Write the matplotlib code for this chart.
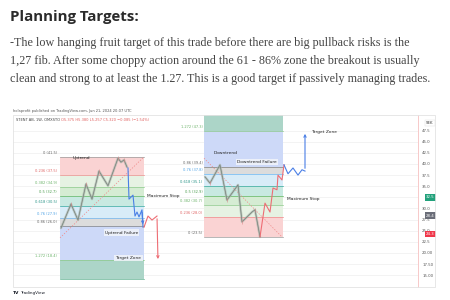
import numpy as np
import matplotlib.pyplot as plt
from matplotlib.patches import Rectangle

# ---- slide text
title = "Planning Targets:"
para = ["-The low hanging fruit target of this trade before there are big pullback risks is the",
        "1,27 fib. After some choppy action around the 61 - 86% zone the breakout is usually",
        "clean and strong to at least the 1.27. This is a good target if passively managing trades."]

# ---- fib levels (price per level)
fib_levels = ["0", "0.236", "0.382", "0.5", "0.618", "0.76", "0.86", "1.272", "1.618"]
up_prices = [41.5, 37.5, 34.9, 32.7, 30.5, 27.9, 26.0, 18.40, 14.1]
down_prices = [23.5, 28.0, 30.7, 32.9, 35.1, 37.8, 39.4, 47.3, 54.4]
up_span = (23.5, 65.5)      # bars
down_span = (95.5, 134.75)

# ---- price paths (bar, price)
up_bars = [24, 29, 32.5, 36.5, 39.5, 43, 47.5, 52.5, 54, 55.5, 57]
up_px = [25.6, 31.0, 27.4, 35.5, 32.1, 38.4, 35.1, 41.3, 40.4, 40.9, 39.3]
fail_up_bars = [57.5, 58, 60, 61, 62, 63, 64.5, 65]
fail_up_px = [39.1, 32.1, 33.0, 28.3, 29.2, 28.1, 29.7, 25.8]
drop_bars = [65.5, 67.5, 69.5, 72, 72.5]
drop_px = [25.8, 28.3, 27.4, 28.3, 18.0]

dn_bars = [96, 98.5, 103.5, 107, 112.5, 114.5, 119.5, 121, 123.5]
dn_px = [37.1, 35.7, 39.8, 31.9, 35.3, 27.0, 29.2, 29.7, 23.6]
rise_bars = [123.5, 126, 128.5, 130, 132, 132.5, 134.5, 135.5]
rise_px = [23.6, 31.2, 29.2, 34.6, 34.2, 37.5, 36.4, 39.8]
fail_dn_bars = [135.5, 137.5, 140, 142.5, 144.5, 146, 146]
fail_dn_px = [39.8, 37.8, 39.1, 37.5, 38.7, 38.4, 47.4]

ticks = [15, 17.5, 20, 22.5, 25, 27.5, 30, 35, 37.5, 40, 42.5, 45, 47.5]
tick_lbl = ["15.00", "17.50", "20.00", "22.5", "25.0", "27.5", "30.0", "35.0", "37.5", "40.0", "42.5", "45.0", "47.5"]

band_cols = ["#fad3d3", "#e6f2e3", "#d5ecd3", "#c8e9e1", "#d8ecf8", "#dcdcdc", "#cdd9f8", "#acd5c8"]
line_cols = ["#9a9a9a", "#ee8a8a", "#8cc98a", "#5fb561", "#33a89c", "#6cb6f2", "#808080", "#8cc98a", "#5fb08f"]
lbl_cols = ["#666666", "#e06666", "#6cb36a", "#4e9e50", "#2a9488", "#4fa3e6", "#666666", "#6cb36a"]

W, H = 450, 300
fig = plt.figure(figsize=(4.5, 3), dpi=100)
fig.patch.set_facecolor("white")

fig.text(10 / W, 1 - 17 / H, title, family="Open Sans", weight="bold", fontsize=10.8,
         color="#2b2b2b", va="center")
for i, line in enumerate(para):
    fig.text(10 / W, 1 - (43 + 18 * i) / H, line, family="Liberation Serif", fontsize=8.75,
             color="#444444", va="center")

fig.text(13 / W, 1 - 110.5 / H, "holaprofit published on TradingView.com, Jun 21, 2024 20:07 UTC",
         fontsize=2.6, color="#555555", va="center")

# panel frame
fig.patches.append(Rectangle((13 / W, 1 - 287 / H), 422 / W, 172 / H, transform=fig.transFigure,
                             fill=False, ec="#e3e3e3", lw=0.6))

ax = fig.add_axes([13 / W, 1 - 287 / H, 405 / W, 172 / H])
ax.set_xlim(0, 202.5)
ax.set_ylim(12.36, 51.0)
for s in ["top", "left", "bottom"]:
    ax.spines[s].set_visible(False)
ax.spines["right"].set_color("#f4b4b4")
ax.spines["right"].set_linewidth(0.5)
ax.set_xticks([])
ax.yaxis.tick_right()
ax.set_yticks(ticks)
ax.set_yticklabels(tick_lbl, fontsize=2.8, color="#555555")
ax.tick_params(axis="y", length=0, pad=3)
for t in ticks + [32.5]:
    ax.axhline(t, color="#eeeeee", lw=0.5, zorder=0)


def fib_block(prices, span, label_x):
    x0, x1 = span
    for k in range(len(prices) - 1):
        lo, hi = sorted([prices[k], prices[k + 1]])
        ax.add_patch(Rectangle((x0, lo), x1 - x0, hi - lo, color=band_cols[k], lw=0, zorder=1))
    for k, p in enumerate(prices):
        ax.plot([x0, x1], [p, p], color=line_cols[k], lw=0.5, zorder=2)
        if k < 8:
            ax.text(label_x, p + 0.9, "%s (%s)" % (fib_levels[k], p), fontsize=2.6,
                    color=lbl_cols[k], ha="right", va="center", zorder=3)


fib_block(up_prices, up_span, 22)
fib_block(down_prices, down_span, 94.8)

# trend lines
ax.plot([23.5, 65.5], [23.4, 41.6], ls=(0, (2, 2)), color="#f08a8a", lw=0.5, zorder=3)
ax.plot([95.5, 134.5], [41.3, 23.6], ls=(0, (2, 2)), color="#f08a8a", lw=0.5, zorder=3)

# candle-like paths
for bx, py in [(up_bars, up_px), (dn_bars, dn_px)]:
    ax.plot(bx, py, color="#a9b3ab", lw=1.7, alpha=0.7, zorder=4, solid_capstyle="round")
    ax.plot(bx, py, color="#6f7b72", lw=0.45, zorder=5)
    ax.plot(bx[1::2], py[1::2], ls="none", marker="|", ms=2.2, mew=0.4, color="#d98a8a", zorder=5)

ax.plot(fail_up_bars, fail_up_px, color="#4a7fe6", lw=0.8, zorder=6)
ax.annotate("", xy=(fail_up_bars[-1], fail_up_px[-1]), xytext=(fail_up_bars[-2], fail_up_px[-2]),
            arrowprops=dict(arrowstyle="->", color="#4a7fe6", lw=0.8, mutation_scale=4), zorder=6)
ax.plot(drop_bars[:-1], drop_px[:-1], color="#ee6d74", lw=0.8, zorder=6)
ax.annotate("", xy=(drop_bars[-1], drop_px[-1]), xytext=(drop_bars[-2], drop_px[-2]),
            arrowprops=dict(arrowstyle="->", color="#ee6d74", lw=0.8, mutation_scale=4), zorder=6)
ax.plot(rise_bars, rise_px, color="#ee6d74", lw=0.8, zorder=6)
ax.plot(fail_dn_bars[:-1], fail_dn_px[:-1], color="#4a7fe6", lw=0.8, zorder=6)
ax.annotate("", xy=(fail_dn_bars[-1], fail_dn_px[-1]), xytext=(fail_dn_bars[-2], fail_dn_px[-2]),
            arrowprops=dict(arrowstyle="->", color="#4a7fe6", lw=0.8, mutation_scale=4), zorder=6)

box = dict(boxstyle="square,pad=0.25", fc="#f0f3fa", ec="none", alpha=0.9)
ax.text(30, 41.3, "Uptrend", fontsize=3.2, color="#222222", va="center", zorder=7)
ax.text(54.3, 24.6, "Uptrend Failure", fontsize=3.2, color="#222222", ha="center", va="center", bbox=box, zorder=7)
ax.text(57.7, 18.9, "Target Zone", fontsize=3.2, color="#222222", ha="center", va="center", bbox=box, zorder=7)
ax.text(67, 32.8, "Maximum Stop", fontsize=3.2, color="#222222", va="center", zorder=7)
ax.text(100.5, 42.5, "Downtrend", fontsize=3.2, color="#222222", va="center", zorder=7)
ax.text(121.8, 40.5, "Downtrend Failure", fontsize=3.2, color="#222222", ha="center", va="center", bbox=box, zorder=7)
ax.text(137, 32.1, "Maximum Stop", fontsize=3.2, color="#222222", va="center", zorder=7)
ax.text(149, 47.2, "Target Zone", fontsize=3.2, color="#222222", va="center", zorder=7)

ax.text(1.5, 49.9, "STENT AB, 1W, OMXSTO", fontsize=2.6, color="#444444", va="center")
ax.text(24, 49.9, "O5.375 H5.380 L5.257 C5.320 \u22120.085 (\u22121.54%)", fontsize=2.6,
        color="#e0605f", va="center")

# price axis badges
badge_x = 1.02
for val, fc, tc in [(32.5, "#22a17b", "white"), (28.4, "#6a6d78", "white"), (24.3, "#f0374a", "white")]:
    ax.text(badge_x, val, "%.1f" % val, transform=ax.get_yaxis_transform(), fontsize=2.8,
            color=tc, va="center", ha="left", bbox=dict(boxstyle="square,pad=0.3", fc=fc, ec="none"))
ax.text(badge_x, 49.2, "SEK", transform=ax.get_yaxis_transform(), fontsize=2.8, color="#333333",
        va="center", ha="left", bbox=dict(boxstyle="square,pad=0.3", fc="white", ec="#dddddd", lw=0.3))

fig.text(13 / W, 1 - 293 / H, "TV", fontsize=3.2, weight="bold", color="#131722", va="center")
fig.text(20 / W, 1 - 293 / H, "TradingView", fontsize=3.0, color="#131722", va="center")

fig.savefig("out.png", dpi=100)
